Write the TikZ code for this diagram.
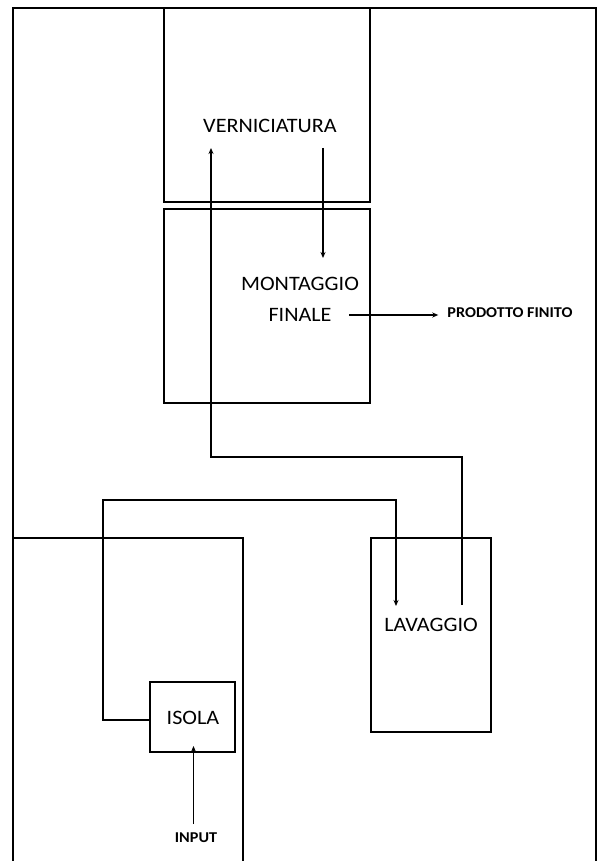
\documentclass[tikz,border=0pt]{standalone}
\usepackage{fontspec}
\setmainfont{Carlito}[FakeStretch=1.08]
\usetikzlibrary{arrows.meta}
\begin{document}
\begin{tikzpicture}[x=1pt,y=-1pt,
  frame/.style={line width=2pt,line join=miter},
  area/.style={draw,line width=2pt,inner sep=0pt,outer sep=0pt,anchor=north west},
  lbl/.style={inner sep=0pt,font=\fontsize{20.5}{22}\selectfont},
  small/.style={inner sep=0pt,font=\fontsize{15}{17}\selectfont\bfseries},
  conn/.style={line width=1.4pt},
  arr/.style={conn,-{Stealth[length=6pt,width=5pt]}}]
\useasboundingbox (0,0) rectangle (600,861);
% outer frame (open at the bottom)
\coordinate (fbl) at (13,862);
\coordinate (ftl) at (13,8);
\coordinate (ftr) at (596,8);
\coordinate (fbr) at (596,862);
\draw[frame] (fbl) -- (ftl) -- (ftr) -- (fbr);
% areas
\node[area,minimum width=206pt,minimum height=194pt] (vbox) at (164,8) {};
\node[area,minimum width=206pt,minimum height=194pt] (mbox) at (164,209) {};
\node[area,minimum width=120pt,minimum height=194pt] (lbox) at (371,538) {};
\node[area,minimum width=85pt,minimum height=70pt] (ibox) at (150,682) {};
\coordinate (lbl1) at (13,538);
\coordinate (lbl2) at (243,538);
\coordinate (lbl3) at (243,862);
\draw[frame] (lbl1) -- (lbl2) -- (lbl3);
% labels
\node[lbl] (vern) at (270,126) {VERNICIATURA};
\node[lbl] (mont) at (300,284) {MONTAGGIO};
\node[lbl] (fin) at (300,315) {FINALE};
\node[lbl] (lav) at (431,625) {LAVAGGIO};
\node[lbl] (isola) at (193,718) {ISOLA};
\node[small] (prod) at (510,313) {PRODOTTO FINITO};
\node[small] (inp) at (196,838) {INPUT};
% connectors
\coordinate (vOut) at (323,148);
\coordinate (mIn) at (323,258);
\draw[arr] (vOut) -- (mIn);
\coordinate (fOut) at (349,315);
\draw[arr] (fOut) -- ([xshift=-9pt]prod.west |- fOut);
\coordinate (lOut) at (462,605);
\coordinate (c1) at (462,457);
\coordinate (c2) at (211,457);
\coordinate (vIn) at (211,148);
\draw[arr] (lOut) -- (c1) -- (c2) -- (vIn);
\coordinate (i1) at (103,720);
\coordinate (i2) at (103,500);
\coordinate (i3) at (396,500);
\coordinate (lIn) at (396,606);
\draw[arr] (ibox.west |- i1) -- (i1) -- (i2) -- (i3) -- (lIn);
\coordinate (inS) at (193.5,824);
\draw[arr] (inS) -- ([yshift=6pt]ibox.south -| inS);
\end{tikzpicture}
\end{document}
